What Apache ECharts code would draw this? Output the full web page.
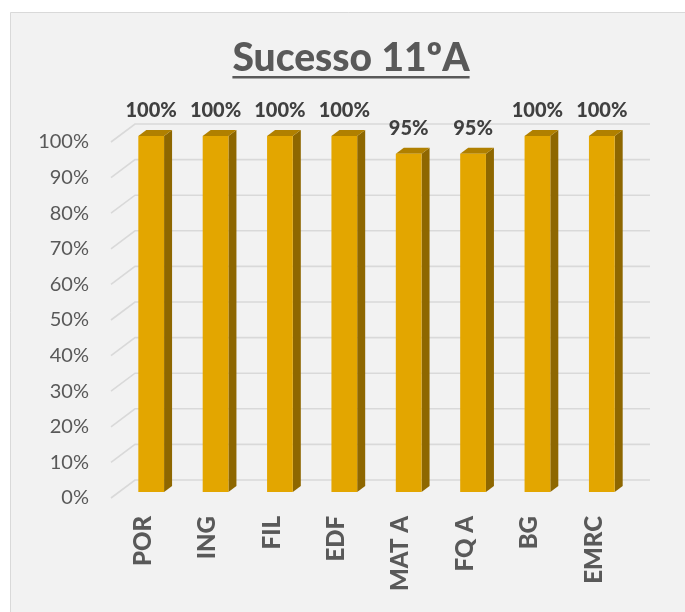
<!DOCTYPE html>
<html>
<head>
<meta charset="utf-8">
<script src="https://cdn.jsdelivr.net/npm/echarts@6/dist/echarts.min.js"></script>
<style>
  html, body { margin: 0; padding: 0; background: #fff; }
  #main { width: 685px; height: 612px; }
</style>
</head>
<body>
<div id="main"></div>
<script>
// data
var titleText = 'Sucesso 11ºA';
var categories = ['POR', 'ING', 'FIL', 'EDF', 'MAT A', 'FQ A', 'BG', 'EMRC'];
var successRate = [100, 100, 100, 100, 95, 95, 100, 100];
var yTicks = [0, 10, 20, 30, 40, 50, 60, 70, 80, 90, 100];

var FONT = 'Lato';
var depthX = 24, depthY = -18;   // back wall offset (3D depth)
var barFront = 1 / 3;            // bar front face sits at 1/3 of depth
var barBack = 2 / 3;

var myChart = echarts.init(document.getElementById('main'));

// measure title for underline
var titleFont = '900 39px ' + FONT;
var cv = document.createElement('canvas').getContext('2d');
cv.font = titleFont;
var titleW = cv.measureText(titleText).width;
var titleX = 351;

var barData = categories.map(function (c, i) { return [i, successRate[i]]; });
var gridData = yTicks.map(function (t) { return [0, t]; });

var option = {
    backgroundColor: '#fff',
    animation: false,
    graphic: [
        {
            type: 'rect', z: -10, silent: true,
            shape: { x: 10.5, y: 12.5, width: 700, height: 620 },
            style: { fill: '#f2f2f2', stroke: '#d9d9d9', lineWidth: 1 }
        },
        {
            type: 'text', x: titleX, y: 58, z: 10,
            style: {
                text: titleText, fill: '#595959',
                font: titleFont,
                align: 'center',
                verticalAlign: 'middle'
            }
        },
        {
            type: 'rect', z: 10,
            shape: { x: titleX - titleW / 2, y: 76, width: titleW, height: 2.5 },
            style: { fill: '#595959' }
        }
    ],
    grid: { left: 111, right: 59, top: 142, bottom: 114 },
    xAxis: {
        type: 'category',
        data: categories,
        axisLine: { show: false },
        axisTick: { show: false },
        axisLabel: {
            rotate: 90,
            margin: 18,
            color: '#595959',
            fontFamily: FONT,
            fontWeight: 900,
            fontSize: 24
        }
    },
    yAxis: {
        type: 'value',
        min: 0, max: 100, interval: 10,
        axisLine: { show: false },
        axisTick: { show: false },
        splitLine: { show: false },
        axisLabel: {
            formatter: '{value}%',
            margin: 22,
            color: '#595959',
            fontFamily: FONT,
            fontSize: 20
        }
    },
    series: [
        {
            // back wall gridlines with slanted side wall segments
            type: 'custom',
            silent: true,
            z: 1,
            data: gridData,
            renderItem: function (params, api) {
                var p = api.coord([0, api.value(1)]);
                var band = api.size([1, 0])[0];
                var left = p[0] - band / 2;
                var right = left + band * categories.length;
                return {
                    type: 'polyline',
                    shape: { points: [[left, p[1]], [left + depthX, p[1] + depthY], [right + depthX, p[1] + depthY]] },
                    style: { stroke: '#d9d9d9', lineWidth: 1.6, fill: null }
                };
            }
        },
        {
            type: 'custom',
            z: 2,
            data: barData,
            renderItem: function (params, api) {
                var cat = api.value(0), v = api.value(1);
                var top = api.coord([cat, v]);
                var bot = api.coord([cat, 0]);
                var band = api.size([1, 0])[0];
                var w = band * 0.4;
                var ox = depthX * barFront, oy = depthY * barFront;
                var dx = depthX * (barBack - barFront), dy = depthY * (barBack - barFront);
                var x0 = top[0] + ox - w / 2;
                var y0 = top[1] + oy;
                var y1 = bot[1] + oy;
                return {
                    type: 'group',
                    children: [
                        {
                            type: 'polygon',
                            shape: { points: [[x0 + w, y0], [x0 + w + dx, y0 + dy], [x0 + w + dx, y1 + dy], [x0 + w, y1]] },
                            style: { fill: '#8e6700' }
                        },
                        {
                            type: 'polygon',
                            shape: { points: [[x0, y0], [x0 + dx, y0 + dy], [x0 + w + dx, y0 + dy], [x0 + w, y0]] },
                            style: { fill: '#b08000' }
                        },
                        {
                            type: 'rect',
                            shape: { x: x0, y: y0, width: w, height: y1 - y0 },
                            style: { fill: '#e3a600' }
                        },
                        {
                            type: 'text',
                            x: x0 + w / 2,
                            y: y0 + dy - 19,
                            style: {
                                text: v + '%',
                                fill: '#404040',
                                font: '900 20px ' + FONT,
                                align: 'center',
                                verticalAlign: 'middle'
                            }
                        }
                    ]
                };
            }
        }
    ]
};

myChart.setOption(option);
</script>
</body>
</html>
